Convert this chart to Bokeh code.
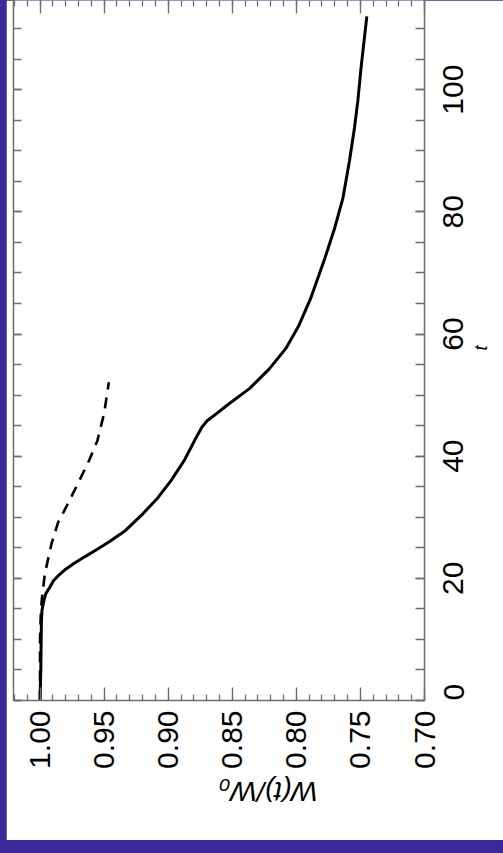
from math import pi
from bokeh.plotting import figure
from bokeh.models import Range1d, FixedTicker, LinearAxis, PrintfTickFormatter
from bokeh.layouts import column
from bokeh.embed import file_html
from bokeh.resources import INLINE

# Data (t vs W(t)/W0)
t_solid = [0, 5, 10, 13, 14.7, 16.2, 17.5, 18.5, 19.6, 20.5, 21.5, 22.5, 23.6, 24.8, 26.0, 27.8,
           30.3, 33.2, 36.0, 39.3, 41.5, 43.4, 44.8, 45.8, 47.0, 48.3, 51.1, 54.3, 57.6,
           61.4, 66.0, 72.5, 77.4, 82.3, 88.4, 93.8, 98.2, 103.6, 112.0]
w_solid = [1.0, 0.9994, 0.9991, 0.9989, 0.9985, 0.9972, 0.9955, 0.9925, 0.9895, 0.9855, 0.9800,
           0.9730, 0.9645, 0.9550, 0.9460, 0.9335, 0.9210, 0.9080, 0.8978, 0.8875, 0.8820,
           0.8773, 0.8735, 0.8696, 0.8620, 0.8543, 0.8364, 0.8211, 0.8083, 0.7980, 0.7885,
           0.7776, 0.7700, 0.7636, 0.7585, 0.7546, 0.7520, 0.7495, 0.7450]

t_dashed = [0, 10, 13.6, 16.4, 20.8, 25.7, 29.1, 32.2, 36.0, 39.3, 42.5, 47.0, 52.1]
w_dashed = [1.0, 1.0, 0.9995, 0.9987, 0.9962, 0.9910, 0.9860, 0.9783, 0.9693, 0.9617, 0.9553,
            0.9500, 0.9463]

w_major = [1.00, 0.95, 0.90, 0.85, 0.80, 0.75, 0.70]
w_minor = [1.02, 1.01, 1.00, 0.99, 0.98, 0.97, 0.96, 0.95, 0.94, 0.93, 0.92, 0.91, 0.90,
           0.89, 0.88, 0.87, 0.86, 0.85, 0.84, 0.83, 0.82, 0.81, 0.80, 0.79, 0.78, 0.77,
           0.76, 0.75, 0.74, 0.73, 0.72, 0.71, 0.70]
t_major = [0, 20, 40, 60, 80, 100]
t_labels = ["0", "20", "40", "60", "80", "100"]
t_minor = [0, 5, 10, 15, 20, 25, 30, 35, 40, 45, 50, 55, 60, 65, 70, 75, 80, 85, 90, 95,
           100, 105, 110]

FONT = "Liberation Sans"
AX_COLOR = "#6e6e6e"
PURPLE = "#3b2a99"
T_MAX = 114.6
FRAME_H = 700
LABEL_PX = 30

p = figure(width=497, height=840, output_backend="svg", toolbar_location=None,
           x_range=Range1d(1.0207, 0.70), y_range=Range1d(0, T_MAX),
           x_axis_location=None, y_axis_location=None,
           min_border_left=7, min_border_right=72, min_border_top=0,
           min_border_bottom=840 - FRAME_H,
           background_fill_color="white", border_fill_color="white",
           outline_line_color=None)
p.grid.visible = False


def style_axis(ax, labels=True, tick_in=13, minor_in=6):
    ax.axis_line_color = AX_COLOR
    ax.axis_line_width = 1.5
    ax.major_tick_in = tick_in
    ax.major_tick_out = 0
    ax.minor_tick_in = minor_in
    ax.minor_tick_out = 0
    ax.major_tick_line_color = AX_COLOR
    ax.minor_tick_line_color = AX_COLOR
    ax.major_tick_line_width = 1.3
    ax.minor_tick_line_width = 1.3
    ax.major_label_text_font = FONT
    ax.major_label_text_color = "black"
    ax.axis_label_text_font = FONT
    ax.axis_label_text_color = "black"
    if not labels:
        ax.major_label_text_color = None
        ax.major_label_standoff = 0


# W axis (bottom, with labels) and mirror (top)
bottom = LinearAxis(ticker=FixedTicker(ticks=w_major, minor_ticks=w_minor),
                    formatter=PrintfTickFormatter(format="%.2f"))
style_axis(bottom)
bottom.major_label_text_font_size = f"{LABEL_PX}px"
bottom.major_label_orientation = pi / 2
bottom.major_label_standoff = 10
bottom.axis_label = "W(t)/W\u2080"
bottom.axis_label_text_font_style = "italic"
bottom.axis_label_text_font_size = "28px"
bottom.axis_label_orientation = pi
bottom.axis_label_standoff = 20
p.add_layout(bottom, "below")

top = LinearAxis(ticker=FixedTicker(ticks=w_major, minor_ticks=w_minor))
style_axis(top, labels=False)
top.axis_line_color = None
p.add_layout(top, "above")

# t axis: tick marks on the right edge and its mirror on the left edge
right_ticks = LinearAxis(ticker=FixedTicker(ticks=t_major, minor_ticks=t_minor))
style_axis(right_ticks, labels=False, tick_in=9, minor_in=9)
p.add_layout(right_ticks, "right")

left = LinearAxis(ticker=FixedTicker(ticks=t_major, minor_ticks=t_minor))
style_axis(left, labels=False, tick_in=8, minor_in=8)
p.add_layout(left, "left")

# t tick labels: Bokeh starts a turned label at its tick, so each label is
# moved down by half its own length to sit centred on its tick (never below
# the start of the range, where Bokeh would drop it).
px_per_t = FRAME_H / T_MAX
half_len = [0.5 * 0.556 * LABEL_PX * len(s) / px_per_t for s in t_labels]
label_pos = [round(max(t - h, 0.0), 4) for t, h in zip(t_major, half_len)]
right_labels = LinearAxis(ticker=FixedTicker(ticks=label_pos, minor_ticks=[]))
style_axis(right_labels, tick_in=0, minor_in=0)
right_labels.axis_line_color = None
right_labels.major_tick_line_color = None
right_labels.minor_tick_line_color = None
right_labels.major_label_overrides = {pos: s for pos, s in zip(label_pos, t_labels)}
right_labels.major_label_text_font_size = f"{LABEL_PX}px"
right_labels.major_label_orientation = pi / 2
right_labels.major_label_standoff = 29
right_labels.axis_label = "t"
right_labels.axis_label_text_font_style = "italic"
right_labels.axis_label_text_font_size = "18px"
right_labels.axis_label_orientation = pi / 2
right_labels.axis_label_standoff = 4
p.add_layout(right_labels, "right")

p.line(w_solid, t_solid, line_color="black", line_width=3)
p.line(w_dashed, t_dashed, line_color="black", line_width=2.6, line_dash="11 8")

layout = column(p, styles={"background-color": PURPLE, "padding-left": "6px",
                           "padding-bottom": "13px"})

open("out.html", "w").write(file_html(layout, INLINE))
